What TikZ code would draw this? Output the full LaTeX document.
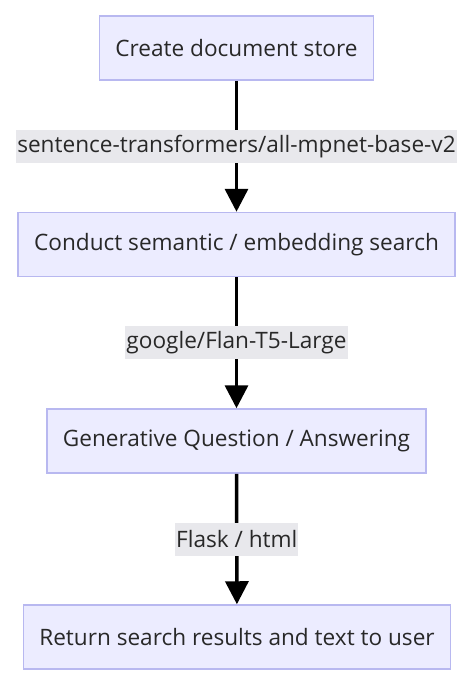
\documentclass[tikz,border=0pt]{standalone}
\usepackage{fontspec}
\setmainfont{Open Sans}
\usepackage{tikz}
\usetikzlibrary{positioning,arrows.meta}
\definecolor{colorbox}      {RGB}{236,236,255}
\definecolor{colorborder}   {RGB}{184,184,240}
\definecolor{colorlabel}    {RGB}{232,232,236}
\definecolor{colortext}     {RGB}{40 ,40 ,40 }

\begin{document}
\begin{tikzpicture}[
    x=1pt, y=-1pt,
    font={\fontsize{22.6}{27}\selectfont},
    stage/.style={draw=colorborder,fill=colorbox,line width=1.5pt,text=colortext,
        minimum height=64pt,inner xsep=16pt},
    edgelabel/.style={fill=colorlabel,text=colortext,inner xsep=1pt,
        minimum height=33pt},
    flow/.style={line width=3.5pt,-{Triangle[length=23pt,width=23pt]}},
]

    \useasboundingbox (0,0) rectangle (474,688);

    \node[stage] (store)    at (236.5,48)  {Create document store};
    \node[stage] (search)   at (236.5,244.5) {Conduct semantic / embedding search};
    \node[stage] (answer)   at (236.5,441) {Generative Question / Answering};
    \node[stage] (result)   at (237,637)   {Return search results and text to user};

    \draw[flow] (store)  -- node[edgelabel] {sentence-transformers/all-mpnet-base-v2} (search);
    \draw[flow] (search) -- node[edgelabel] {google/Flan-T5-Large} (answer);
    \draw[flow] (answer) -- node[edgelabel] {Flask / html} (result);

\end{tikzpicture}
\end{document}
